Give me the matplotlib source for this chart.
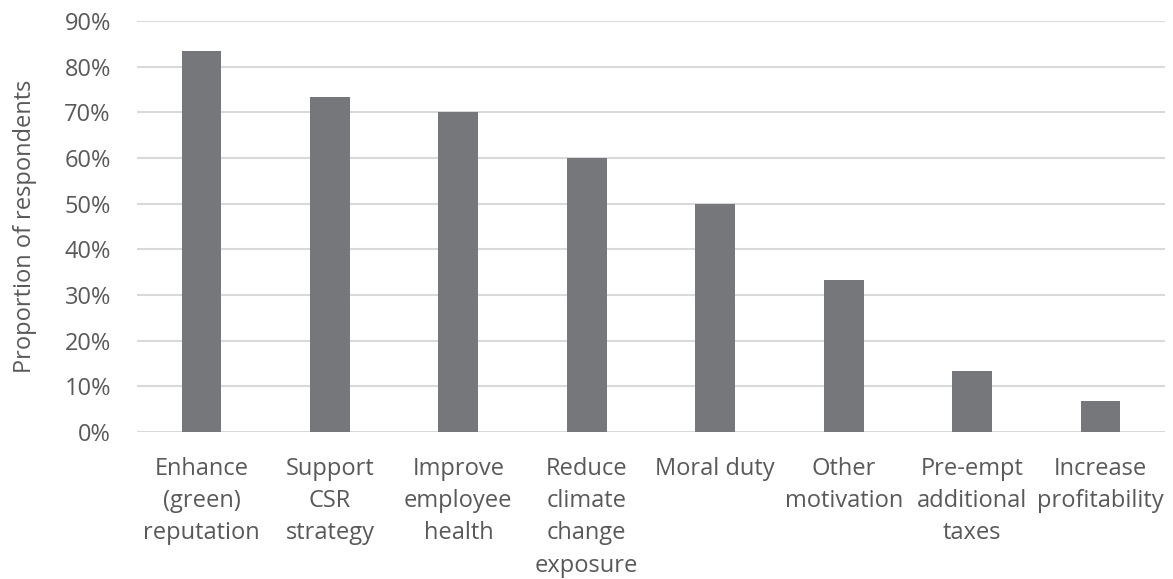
import matplotlib
matplotlib.use("Agg")
import matplotlib.pyplot as plt
from matplotlib.ticker import FuncFormatter

# data
categories = ["Enhance\n(green)\nreputation", "Support\nCSR\nstrategy", "Improve\nemployee\nhealth",
              "Reduce\nclimate\nchange\nexposure", "Moral duty", "Other\nmotivation",
              "Pre-empt\nadditional\ntaxes", "Increase\nprofitability"]
shares = [83.3, 73.3, 70.0, 60.0, 50.0, 33.3, 13.3, 6.7]
yticks = [0, 10, 20, 30, 40, 50, 60, 70, 80, 90]

plt.rcParams['font.family'] = ['Open Sans', 'DejaVu Sans']
text_col = "#595959"

fig = plt.figure(figsize=(11.73, 5.79), dpi=100)
ax = fig.add_axes([0.117, 0.254, 0.876, 0.710])

x = list(range(len(categories)))
ax.bar(x, shares, width=0.31, color="#76777b", zorder=3)

ax.set_xlim(-0.5, len(categories) - 0.5)
ax.set_ylim(0, 90)
ax.set_yticks(yticks)
ax.yaxis.set_major_formatter(FuncFormatter(lambda v, p: "%d%%" % v))
ax.grid(axis="y", color="#d9d9d9", linewidth=1.5, zorder=0)
for s in ax.spines.values():
    s.set_visible(False)

ax.set_xticks(x)
ax.set_xticklabels(categories, linespacing=1.46)
ax.tick_params(axis="x", length=0, pad=18, labelsize=17, labelcolor=text_col)
ax.tick_params(axis="y", length=0, pad=19, labelsize=17, labelcolor=text_col)
for lbl in ax.get_xticklabels():
    lbl.set_verticalalignment("top")

ax.set_ylabel("Proportion of respondents", fontsize=17, color=text_col, labelpad=20)

fig.savefig("out.png", dpi=100)
